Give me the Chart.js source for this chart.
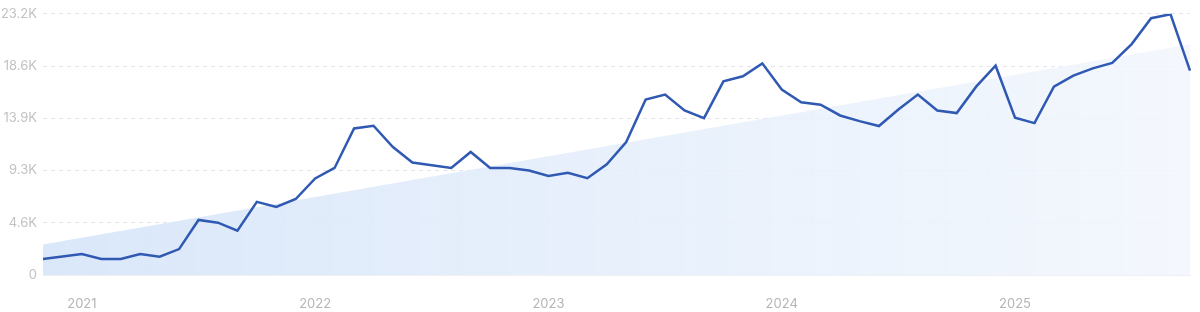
<!DOCTYPE html>
<html>
<head>
<meta charset="utf-8">
<script src="https://cdn.jsdelivr.net/npm/chart.js@4.4.1/dist/chart.umd.min.js"></script>
<style>
  html, body { margin: 0; padding: 0; background: #fff; }
  #wrap { width: 1200px; height: 312px; }
</style>
</head>
<body>
<div id="wrap"><canvas id="trendChart"></canvas></div>
<script>
// monthly points, Nov 2020 .. Oct 2025
const months = [
  '2020-11', '2020-12',
  '2021-01', '2021-02', '2021-03', '2021-04', '2021-05', '2021-06', '2021-07', '2021-08', '2021-09', '2021-10', '2021-11', '2021-12',
  '2022-01', '2022-02', '2022-03', '2022-04', '2022-05', '2022-06', '2022-07', '2022-08', '2022-09', '2022-10', '2022-11', '2022-12',
  '2023-01', '2023-02', '2023-03', '2023-04', '2023-05', '2023-06', '2023-07', '2023-08', '2023-09', '2023-10', '2023-11', '2023-12',
  '2024-01', '2024-02', '2024-03', '2024-04', '2024-05', '2024-06', '2024-07', '2024-08', '2024-09', '2024-10', '2024-11', '2024-12',
  '2025-01', '2025-02', '2025-03', '2025-04', '2025-05', '2025-06', '2025-07', '2025-08', '2025-09', '2025-10'
];

const searches = [
  1420, 1640,
  1860, 1420, 1420, 1860, 1620, 2300, 4890, 4650, 3940, 6500, 6040, 6750,
  8580, 9510, 13020, 13260, 11370, 9990, 9750, 9510, 10930, 9510, 9510, 9280,
  8800, 9070, 8600, 9840, 11810, 15590, 16030, 14610, 13930, 17200, 17650, 18800,
  16470, 15350, 15120, 14170, 13670, 13230, 14700, 16030, 14610, 14380, 16730, 18590,
  13970, 13490, 16730, 17710, 18350, 18830, 20510, 22810, 23160, 18150
];

// trend line end points
const trendStart = 2700;
const trendEnd = 20500;

const yTicks = [0, 4640, 9280, 13920, 18560, 23200];
const yTickLabels = ['0', '4.6K', '9.3K', '13.9K', '18.6K', '23.2K'];

const tickFont = { family: 'Inter', size: 13 };

function trendFill(context) {
  const { ctx, chartArea } = context.chart;
  if (!chartArea) return 'rgba(220,233,250,0.8)';
  const g = ctx.createLinearGradient(chartArea.left, 0, chartArea.right, 0);
  g.addColorStop(0, 'rgba(214,229,249,0.9)');
  g.addColorStop(1, 'rgba(241,246,253,0.8)');
  return g;
}

new Chart(document.getElementById('trendChart'), {
  type: 'line',
  data: {
    labels: months,
    datasets: [{
      label: 'Searches',
      data: searches,
      borderColor: '#3059b3',
      borderWidth: 2.5,
      pointRadius: 0,
      tension: 0,
      fill: false
    }, {
      label: 'Trend',
      data: [
        { x: months[0], y: trendStart },
        { x: months[months.length - 1], y: trendEnd }
      ],
      borderWidth: 0,
      borderColor: 'rgba(0,0,0,0)',
      backgroundColor: trendFill,
      pointRadius: 0,
      fill: 'origin'
    }]
  },
  options: {
    responsive: true,
    maintainAspectRatio: false,
    animation: false,
    layout: { padding: { top: 12, right: 10, left: 0, bottom: 0 } },
    plugins: {
      legend: { display: false },
      tooltip: { enabled: false }
    },
    scales: {
      x: {
        grid: { display: false },
        border: { display: true, color: '#eef0f4' },
        ticks: {
          autoSkip: false,
          maxRotation: 0,
          padding: 13,
          color: '#b5b5b5',
          font: tickFont,
          callback: function (val) {
            const m = this.getLabelForValue(val);
            return m.endsWith('-01') ? m.slice(0, 4) : null;
          }
        },
        afterFit: (axis) => { axis.height = 37; }
      },
      y: {
        min: 0,
        max: 23200,
        grid: {
          color: '#e4e6ea',
          drawTicks: false
        },
        border: { display: false, dash: [4, 4] },
        afterBuildTicks: (axis) => { axis.ticks = yTicks.map(v => ({ value: v })); },
        ticks: {
          padding: 6,
          color: '#c2c2c2',
          font: tickFont,
          callback: (val) => yTickLabels[yTicks.indexOf(val)]
        },
        afterFit: (axis) => { axis.width = 43; }
      }
    }
  }
});
</script>
</body>
</html>
